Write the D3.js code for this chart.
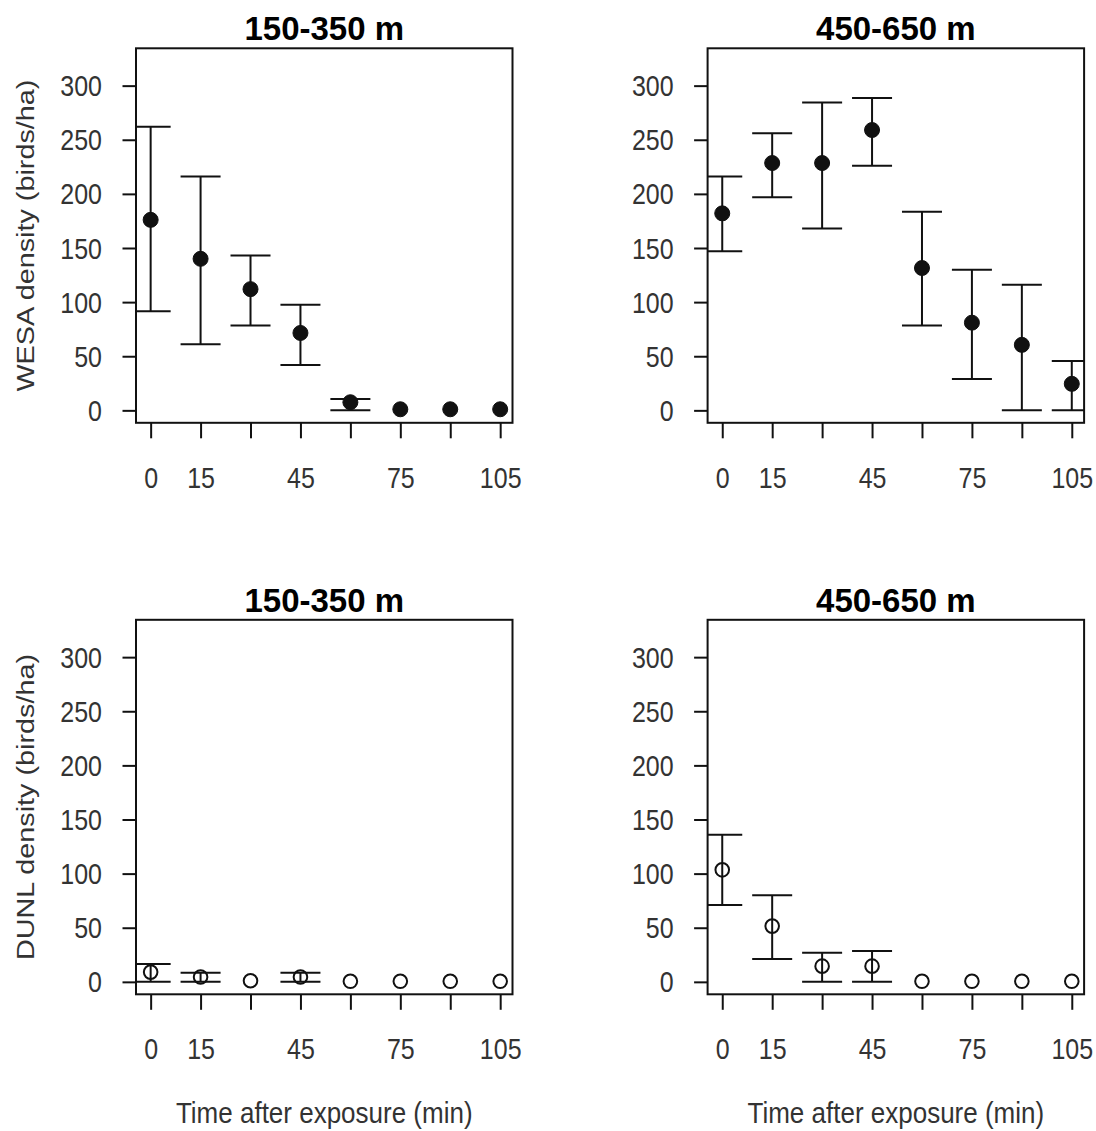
<!DOCTYPE html>
<html lang="en">
<head>
    <meta charset="utf-8">
    <title>WESA / DUNL density</title>
    <script type="text/javascript" src="https://d3js.org/d3.v7.min.js"></script>
    <style>
        body { margin: 0; background: #fff; }
        text { font-family: "Liberation Sans", Arial, sans-serif; }
    </style>
</head>
<body>
    <div id="chart"></div>

    <script type="text/javascript">
        // time after exposure (min)
        const times = [0, 15, 30, 45, 60, 75, 90, 105];
        const xLabelTimes = [0, 15, 45, 75, 105];
        const yTicks = [0, 50, 100, 150, 200, 250, 300];

        const panelTitles = ["150-350 m", "450-650 m"];
        const yTitles = ["WESA density (birds/ha)", "DUNL density (birds/ha)"];
        const xTitle = "Time after exposure (min)";

        // WESA, 150-350 m
        const wesaNearMean = [176, 140, 112, 71.5, 7.5, 1, 1, 1];
        const wesaNearHigh = [262, 216, 143, 97.5, 10.5, null, null, null];
        const wesaNearLow  = [91.5, 61, 78.5, 42, 0, null, null, null];
        // WESA, 450-650 m
        const wesaFarMean = [182, 228.5, 228.5, 259, 131.5, 81, 60.5, 24.5];
        const wesaFarHigh = [216, 256, 284.5, 288.5, 183.5, 130, 116, 45.5];
        const wesaFarLow  = [147, 197, 168, 226, 78.5, 29, 0, 0];
        // DUNL, 150-350 m
        const dunlNearMean = [9, 4.5, 1, 4.5, 0.5, 0.5, 0.5, 0.5];
        const dunlNearHigh = [16.5, 8.5, null, 8.5, null, null, null, null];
        const dunlNearLow  = [0, 0, null, 0, null, null, null, null];
        // DUNL, 450-650 m
        const dunlFarMean = [103.5, 51.5, 14.5, 14.5, 0.5, 0.5, 0.5, 0.5];
        const dunlFarHigh = [136, 80, 27, 28.5, null, null, null, null];
        const dunlFarLow  = [71, 21, 0, 0, null, null, null, null];

        const width = 1096;
        const height = 1131;
        const panelW = 376.5;
        const panelH = 374.5;
        const panelX = [136, 707.6];
        const panelY = [48.3, 619.8];
        const ink = "#111";
        const labelColor = "#333";

        const panels = [
            {row: 0, col: 0, mean: wesaNearMean, hi: wesaNearHigh, lo: wesaNearLow, filled: true},
            {row: 0, col: 1, mean: wesaFarMean, hi: wesaFarHigh, lo: wesaFarLow, filled: true},
            {row: 1, col: 0, mean: dunlNearMean, hi: dunlNearHigh, lo: dunlNearLow, filled: false},
            {row: 1, col: 1, mean: dunlFarMean, hi: dunlFarHigh, lo: dunlFarLow, filled: false}
        ];

        const xScale = d3.scaleLinear().domain([-4.4, 108.7]).range([0, panelW]);
        const yScale = d3.scaleLinear().domain([-11.5, 334.5]).range([panelH, 0]);

        const svg = d3.select("#chart")
            .append("svg")
            .attr("width", width)
            .attr("height", height);

        panels.forEach(function(p, i) {
            const g = svg.append("g")
                .attr("transform", "translate(" + panelX[p.col] + "," + panelY[p.row] + ")");

            g.append("clipPath")
                .attr("id", "clip" + i)
                .append("rect")
                    .attr("width", panelW)
                    .attr("height", panelH);

            // y axis
            const yAxis = d3.axisLeft(yScale).tickValues(yTicks).tickSize(13.5).tickFormat(d3.format("d"));
            const ya = g.append("g").call(yAxis);
            ya.select(".domain").remove();
            ya.selectAll("line").attr("stroke", ink).attr("stroke-width", 2);
            ya.selectAll("text")
                .attr("x", null).attr("dy", "0.35em")
                .attr("transform", "translate(-34,0) scale(1,1.15)")
                .attr("text-anchor", "end")
                .attr("fill", labelColor)
                .style("font-size", "25px");

            // x axis
            const xAxis = d3.axisBottom(xScale).tickValues(times).tickSize(15.5)
                .tickFormat(d => xLabelTimes.includes(d) ? d : "");
            const xa = g.append("g").attr("transform", "translate(0," + panelH + ")").call(xAxis);
            xa.select(".domain").remove();
            xa.selectAll("line").attr("stroke", ink).attr("stroke-width", 2);
            xa.selectAll("text")
                .attr("y", null).attr("dy", "0.35em")
                .attr("transform", "translate(0,55) scale(1,1.15)")
                .attr("fill", labelColor)
                .style("font-size", "25px");

            // error bars
            const rows = times.map((t, j) => ({t: t, m: p.mean[j], hi: p.hi[j], lo: p.lo[j]}));
            const bars = g.append("g").attr("clip-path", "url(#clip" + i + ")")
                .selectAll("g.bar")
                .data(rows.filter(d => d.hi !== null))
                .enter()
                .append("g")
                    .attr("class", "bar")
                    .attr("stroke", ink)
                    .attr("stroke-width", 2);
            bars.append("line")
                .attr("x1", d => xScale(d.t)).attr("x2", d => xScale(d.t))
                .attr("y1", d => yScale(d.lo)).attr("y2", d => yScale(d.hi));
            bars.append("line")
                .attr("x1", d => xScale(d.t) - 20).attr("x2", d => xScale(d.t) + 20)
                .attr("y1", d => yScale(d.hi)).attr("y2", d => yScale(d.hi));
            bars.append("line")
                .attr("x1", d => xScale(d.t) - 20).attr("x2", d => xScale(d.t) + 20)
                .attr("y1", d => yScale(d.lo)).attr("y2", d => yScale(d.lo));

            // points
            g.append("g").attr("clip-path", "url(#clip" + i + ")")
                .selectAll("circle")
                .data(rows)
                .enter()
                .append("circle")
                    .attr("cx", d => xScale(d.t))
                    .attr("cy", d => yScale(d.m))
                    .attr("r", p.filled ? 7.5 : 6.8)
                    .attr("fill", p.filled ? ink : "none")
                    .attr("stroke", ink)
                    .attr("stroke-width", p.filled ? 1 : 2);

            // box
            g.append("rect")
                .attr("width", panelW)
                .attr("height", panelH)
                .attr("fill", "none")
                .attr("stroke", ink)
                .attr("stroke-width", 2);

            // panel title
            g.append("text")
                .attr("x", panelW / 2)
                .attr("y", -8)
                .attr("text-anchor", "middle")
                .attr("font-weight", "bold")
                .attr("fill", "#000")
                .style("font-size", "33px")
                .text(panelTitles[p.col]);

            // y title on left column
            if (p.col === 0) {
                g.append("text")
                    .attr("transform", "translate(" + (34 - panelX[0]) + "," + (panelH / 2) + ") rotate(-90) scale(1.2,1)")
                    .attr("text-anchor", "middle")
                    .attr("fill", labelColor)
                    .style("font-size", "24px")
                    .text(yTitles[p.row]);
            }

            // x title on bottom row
            if (p.row === 1) {
                g.append("text")
                    .attr("transform", "translate(" + (panelW / 2) + "," + (panelH + 119) + ") scale(1,1.1)")
                    .attr("dy", "0.35em")
                    .attr("text-anchor", "middle")
                    .attr("fill", labelColor)
                    .style("font-size", "26px")
                    .text(xTitle);
            }
        });
    </script>
</body>
</html>
